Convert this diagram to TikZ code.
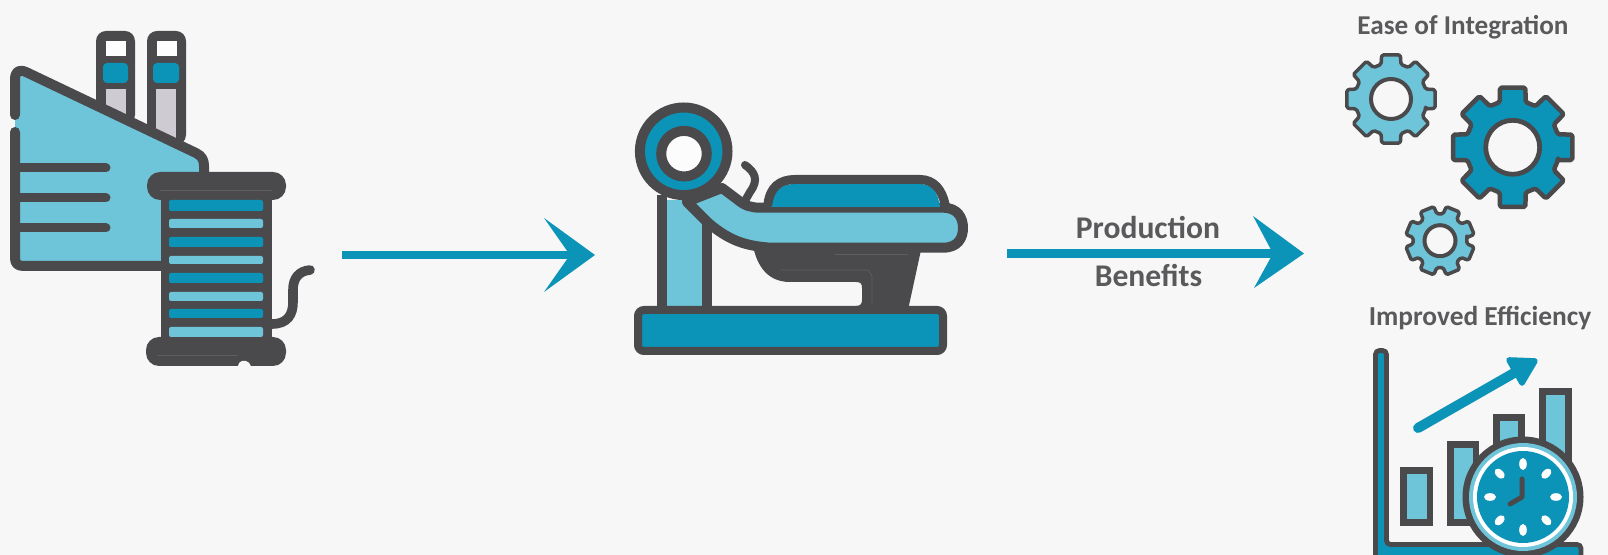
\documentclass[tikz,border=0pt]{standalone}
\usepackage{fontspec}
\setmainfont{Carlito}
\definecolor{dk}{HTML}{4A4A4C}
\definecolor{bl}{HTML}{0B94B8}
\definecolor{lt}{HTML}{6EC4D8}
\definecolor{lil}{HTML}{CFCBD3}
\definecolor{bgc}{HTML}{F7F7F7}
\definecolor{txt}{HTML}{5A5A5C}
\definecolor{hair}{HTML}{5E5E60}
\newcommand{\gearshape}[7]{%
  \begin{scope}[shift={(#1,#2)},rotate=#5]
  \draw[fill=#6,draw=dk,line width=#7*0.5pt,line join=round,rounded corners=0.8pt]
    (-16:#4*0.5pt)
    \foreach \k in {0,...,7}{
      -- (\k*45-16:#4*0.5pt) -- (\k*45-12:#3*0.5pt) -- (\k*45+12:#3*0.5pt) -- (\k*45+16:#4*0.5pt)
    } -- cycle;
  \end{scope}}
\tikzset{
  x=0.5pt,y=-0.5pt,
  ink/.style={draw=dk,line width=5pt,line cap=round,line join=round},
  rule/.style={draw=dk,line width=4.5pt,line cap=round},
  flow/.style={fill=bl,draw=none},
  shaft/.style={draw=bl,line width=3.8pt},
  label/.style={text=txt,font=\bfseries,inner sep=0pt,anchor=base},
  hairline/.style={draw=hair,line width=0.4pt},
  barbox/.style={fill=lt,draw=dk,line width=3.2pt,line join=miter},
}
\begin{document}
\begin{tikzpicture}
\path[use as bounding box,fill=bgc] (0,0) rectangle (1608,555);
\clip (0,0) rectangle (1608,555);

% ---------- factory ----------
\fill[dk,rounded corners=5pt] (96,31) rectangle (135,125);
\fill[dk,rounded corners=5pt] (147,31) rectangle (186,145);
\fill[white!70!bgc] (105.5,41) rectangle (125.5,56);
\fill[white!70!bgc] (157,41) rectangle (177,56);
\fill[bl,rounded corners=2pt] (103,63) rectangle (128,83);
\fill[bl,rounded corners=2pt] (153,63) rectangle (179,83);
\fill[lil] (105.5,89) rectangle (125.5,125);
\fill[lil] (156,89) rectangle (176,145);
\path[fill=lt] (15,70) -- (198,155) -- (204,165) -- (204,200) -- (170,267) -- (15,267) -- cycle;
\draw[ink] (15,115) -- (15,80) .. controls (15,71) and (19,69) .. (26,72)
  -- (196,153) .. controls (202,156) and (204,160) .. (204,166) -- (204,178);
\draw[ink] (15,132) -- (15,258) .. controls (15,264) and (18,266) .. (24,266) -- (165,266);
\draw[rule] (15,168) -- (106,168);
\draw[rule] (15,198) -- (106,198);
\draw[rule] (15,228) -- (106,228);

% ---------- spool ----------
\fill[dk] (161,190) rectangle (272,345);
\fill[dk,rounded corners=6.5pt] (147,172) rectangle (286,200);
\fill[dk,rounded corners=6.5pt] (146,337) rectangle (286,366);
\path[fill=bgc,rounded corners=1pt] (237,368) -- (240,361) -- (248,361) -- (252,368) -- cycle;
\draw[hairline] (160,190) -- (272,190);
\draw[hairline] (158,355) -- (238,355);
\foreach \a/\b/\c in {200/211/bl,219/228/lt,237/247/bl,256/264/lt,273/283/bl,292/301/lt,309/318/bl,327/337/lt}
  \fill[\c,rounded corners=1pt] (169,\a) rectangle (263,\b);
\draw[draw=dk,line width=4.8pt,line cap=round]
  (272,324) .. controls (288,324) and (293,314) .. (293,302) -- (293,290)
  .. controls (293,278) and (299,271) .. (310,270);

% ---------- arrow 1 ----------
\coordinate (a1s) at (342,255);
\coordinate (a1e) at (572,255);
\draw[shaft] (a1s) -- (a1e);
\fill[flow] (544,218) -- (595,255) -- (544,292) -- (570,255) -- cycle;

% ---------- machine ----------
% lower dark mass
\fill[dk] (752,240) .. controls (755,262) and (765,282) .. (790,282) -- (856,282)
  .. controls (861,282) and (862,284) .. (862,288) -- (862,300) .. controls (862,304) and (860,306) .. (856,306)
  -- (908,310) -- (921,250) -- cycle;
\draw[hairline] (835,254.5) -- (908,254.5);
\draw[hairline] (780,270) -- (868,270) -- (872,276) -- (872,305);
% column
\fill[lt] (666,200) -- (704,200) -- (704,307) -- (666,307) -- cycle;
\draw[draw=dk,line width=5pt] (661.5,195) -- (661.5,310);
\draw[draw=dk,line width=5pt] (706.5,222) -- (706.5,310);
% arm
\draw[ink,fill=lt] (722,188) -- (738,200) .. controls (745,206) and (752,207.7) .. (760,207.7)
  -- (943,207.7) .. controls (958,207.7) and (963,218) .. (963,228)
  .. controls (963,238) and (958,247.7) .. (943,247.7) -- (770,247.7)
  .. controls (748,246) and (730,242) .. (707,221.7) -- (687,201.7) -- cycle;
\path[fill=lt] (667,203) .. controls (678,201) and (688,212) .. (694,218) -- (667,240) -- cycle;
\draw[draw=dk,line width=5pt,line cap=round] (687,201.7) -- (707,221.7);
% cushion
\path[fill=bl] (771,207) .. controls (773,190) and (782,184) .. (795,184) -- (920,184)
  .. controls (932,184) and (938,192) .. (940,207) -- cycle;
\draw[draw=dk,line width=4.5pt,line cap=round]
  (768,204) .. controls (770,187) and (780,179.5) .. (795,179.5) -- (920,179.5)
  .. controls (934,179.5) and (942,190) .. (945,204);
% hook
\draw[draw=dk,line width=4pt,line cap=round]
  (745,165) .. controls (755,172) and (759,180) .. (750,192) -- (746,199);
% base
\draw[fill=bl,draw=dk,line width=4pt,rounded corners=3pt] (638,310) rectangle (943,351);
% reel
\draw[fill=bl,draw=dk,line width=5pt] (683.7,151.3) circle[radius=43.8*0.5pt];
\draw[fill=white!60!bgc,draw=dk,line width=5pt] (684,153.7) circle[radius=22.8*0.5pt];

% ---------- arrow 2 and its texts ----------
\coordinate (a2s) at (1007,253.5);
\coordinate (a2e) at (1275,253.5);
\draw[shaft,line width=4.2pt] (a2s) -- (a2e);
\fill[flow] (1253,216) -- (1304,253.5) -- (1254,288) -- (1273,253.5) -- cycle;
\node[label,font=\bfseries\fontsize{15.8}{18}\selectfont] (prod) at (1148,239) {Production};
\node[label,font=\bfseries\fontsize{15.8}{18}\selectfont] (bene) at (1148.5,287) {Benefits};

% ---------- gears ----------
\node[label,font=\bfseries\fontsize{13.6}{15}\selectfont] (ease) at (1463,35) {Ease of Integration};
\gearshape{1391}{99}{45}{36}{0}{lt}{3.5}
\draw[fill=bgc,draw=dk,line width=2pt] (1391,99) circle[radius=20*0.5pt];
\gearshape{1512.7}{147.3}{61}{47}{0}{bl}{4.5}
\draw[fill=bgc,draw=dk,line width=2.4pt] (1512.7,147.3) circle[radius=27*0.5pt];
\gearshape{1440}{240.7}{34.7}{27}{22.5}{lt}{3.5}
\draw[fill=bgc,draw=dk,line width=2pt] (1440,240.7) circle[radius=15.5*0.5pt];

% ---------- chart ----------
\node[label,font=\bfseries\fontsize{13.7}{15}\selectfont] (impr) at (1480,326) {Improved Efficiency};
\draw[fill=bl,draw=dk,line width=2.4pt,rounded corners=2pt]
  (1375.5,350.5) -- (1386.5,350.5) -- (1386.5,544.5) -- (1581,544.5) -- (1581,570) -- (1375.5,570) -- cycle;
\draw[barbox] (1403.5,470.5) rectangle (1430,522.5);
\draw[barbox] (1450.5,444.5) rectangle (1476,522.5);
\draw[barbox] (1496.5,417.5) rectangle (1521.5,480);
\draw[barbox] (1542.5,391.5) rectangle (1568.5,480);
\coordinate (c1) at (1418,428);
\coordinate (c2) at (1528,365);
\draw[draw=bl,line width=5pt,line cap=round] (c1) -- (c2);
\fill[bl,draw=bl,line width=2.8pt,line join=round] (1509,360) -- (1535,361) -- (1522,383) -- cycle;
% stopwatch
\fill[dk] (1523,497) circle[radius=60.5*0.5pt];
\fill[lt] (1523,497) circle[radius=54*0.5pt];
\fill[white] (1523,497) circle[radius=50*0.5pt];
\fill[bl] (1523,497) circle[radius=46*0.5pt];
\foreach \a in {0,45,...,315}
  \fill[white!85!bgc,rotate around={\a:(1523,497)}] (1523,464) ellipse[x radius=3.8*0.5pt,y radius=6*0.5pt];
\draw[draw=dk,line width=2.5pt,line cap=round,line join=round] (1522,479) -- (1522,497) -- (1510,504);
\end{tikzpicture}
\end{document}
